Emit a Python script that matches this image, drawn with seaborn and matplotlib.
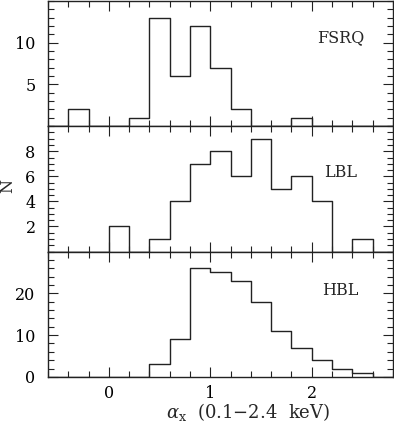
import numpy as np
import pandas as pd
import matplotlib
matplotlib.use("Agg")
import matplotlib.pyplot as plt
import seaborn as sns
from matplotlib.ticker import MultipleLocator

# bin edges of alpha_x, width 0.2
bin_edges = [round(-0.6 + 0.2 * i, 2) for i in range(18)]
bin_centers = [round(e + 0.1, 2) for e in bin_edges[:-1]]

# counts per bin, from -0.6 to 2.8
fsrq_counts = [0, 2, 0, 0, 1, 13, 6, 12, 7, 2, 0, 0, 1, 0, 0, 0, 0]
lbl_counts = [0, 0, 0, 2, 0, 1, 4, 7, 8, 6, 9, 5, 6, 4, 0, 1, 0]
hbl_counts = [0, 0, 0, 0, 0, 3, 9, 26, 25, 23, 18, 11, 7, 4, 2, 1, 0]

panel_names = ["FSRQ", "LBL", "HBL"]
panel_counts = [fsrq_counts, lbl_counts, hbl_counts]
y_limits = [15, 10, 30]
y_major = [5, 2, 10]
y_minor = [1, 0.5, 2]
label_y = [0.71, 0.63, 0.69]

sns.set_style("ticks")
plt.rcParams["font.family"] = ["DejaVu Serif"]
plt.rcParams["mathtext.fontset"] = "dejavuserif"

LINE = "#222222"

fig, axs = plt.subplots(3, 1, figsize=(3.94, 4.23), dpi=100, sharex=True)
fig.subplots_adjust(left=0.122, right=0.997, bottom=0.109, top=0.998, hspace=0)

for ax, name, counts, ymax, maj, mnr, ly in zip(axs, panel_names, panel_counts,
                                                 y_limits, y_major, y_minor, label_y):
    df = pd.DataFrame({"alpha": bin_centers, "n": counts})
    sns.histplot(data=df, x="alpha", weights="n", bins=bin_edges, element="step",
                 fill=False, color=LINE, linewidth=1.0, ax=ax)
    ax.set_xlim(-0.6, 2.8)
    ax.set_ylim(0, ymax)
    ax.xaxis.set_major_locator(MultipleLocator(1))
    ax.xaxis.set_minor_locator(MultipleLocator(0.2))
    ax.tick_params(which="both", direction="in", top=True, right=True, labelsize=11.5,
                   width=0.8, colors=LINE, labelcolor="black")
    ax.tick_params(which="major", length=7)
    ax.tick_params(which="minor", length=4)
    ax.tick_params(axis="y", which="major", pad=9)
    ax.tick_params(axis="x", which="major", pad=6)
    for sp in ax.spines.values():
        sp.set_linewidth(1.0)
        sp.set_color(LINE)
    ax.set_ylabel("")
    ax.set_xlabel("")
    ax.text(0.848, ly, name, transform=ax.transAxes, ha="center", va="center",
            fontsize=11.5)
    # no tick label at the panel top edge, and none at 0 for the upper panels
    ticks = [t for t in np.arange(0, ymax + 0.01, maj) if t < ymax - 1e-6]
    if name != "HBL":
        ticks = [t for t in ticks if t > 0]
    ax.set_yticks(ticks)
    ax.set_yticklabels([f"{int(t)}" for t in ticks])
    ax.yaxis.set_minor_locator(MultipleLocator(mnr))

axs[2].set_xticks([0, 1, 2])
axs[2].set_xticklabels(["0", "1", "2"])
fig.text(248 / 394, 1 - 412 / 423, r"$\alpha_{\rm x}$  (0.1$-$2.4  keV)",
         ha="center", va="center", fontsize=13)
fig.text(8 / 394, 1 - 186 / 423, "N", rotation=90, ha="center", va="center",
         fontsize=11.5)

fig.savefig("out.png", dpi=100)
